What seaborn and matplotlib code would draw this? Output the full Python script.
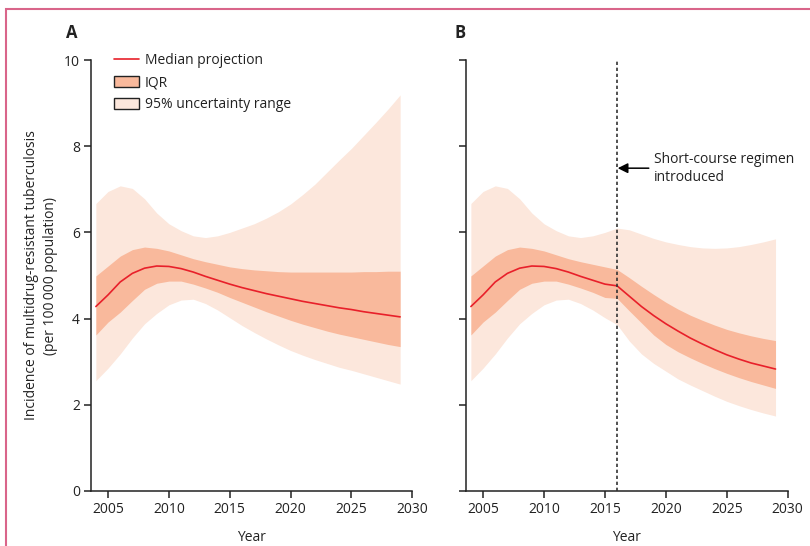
import numpy as np
import pandas as pd
import matplotlib
matplotlib.use("Agg")
import matplotlib.pyplot as plt
from matplotlib.patches import Rectangle, Patch
from matplotlib.lines import Line2D
import seaborn as sns

# ---- data: incidence of MDR-TB per 100 000 population ----
years = list(range(2004, 2030))

# Panel A: current standard regimen
median_a = [4.28, 4.55, 4.85, 5.05, 5.17, 5.22, 5.21, 5.16, 5.08, 4.98, 4.89, 4.80, 4.72,
            4.65, 4.58, 4.52, 4.46, 4.40, 4.35, 4.30, 4.25, 4.21, 4.16, 4.12, 4.08, 4.04]
iqr_hi_a = [4.99, 5.22, 5.45, 5.60, 5.66, 5.63, 5.57, 5.48, 5.39, 5.32, 5.26, 5.20, 5.16,
            5.13, 5.11, 5.09, 5.08, 5.08, 5.08, 5.08, 5.08, 5.08, 5.09, 5.09, 5.10, 5.10]
iqr_lo_a = [3.62, 3.92, 4.15, 4.42, 4.68, 4.82, 4.87, 4.87, 4.80, 4.71, 4.61, 4.49, 4.38,
            4.27, 4.16, 4.06, 3.96, 3.87, 3.79, 3.71, 3.64, 3.58, 3.52, 3.46, 3.40, 3.35]
ui_hi_a = [6.67, 6.95, 7.08, 7.02, 6.78, 6.45, 6.20, 6.04, 5.92, 5.88, 5.92, 6.00, 6.10,
           6.20, 6.33, 6.48, 6.66, 6.88, 7.12, 7.40, 7.68, 7.95, 8.25, 8.55, 8.86, 9.19]
ui_lo_a = [2.56, 2.85, 3.18, 3.55, 3.88, 4.12, 4.32, 4.43, 4.45, 4.35, 4.20, 4.02, 3.84,
           3.68, 3.53, 3.39, 3.26, 3.15, 3.05, 2.96, 2.87, 2.80, 2.72, 2.64, 2.56, 2.48]

# Panel B: short-course regimen introduced in 2016 (values from 2016 onward)
intro_year = 2016
median_b_post = [4.76, 4.52, 4.28, 4.07, 3.88, 3.71, 3.55, 3.41, 3.28, 3.16, 3.06, 2.97, 2.90, 2.83]
iqr_hi_b_post = [5.14, 4.95, 4.75, 4.56, 4.38, 4.22, 4.08, 3.96, 3.85, 3.75, 3.67, 3.60, 3.54, 3.49]
iqr_lo_b_post = [4.47, 4.18, 3.90, 3.62, 3.40, 3.23, 3.09, 2.96, 2.84, 2.73, 2.63, 2.54, 2.46, 2.38]
ui_hi_b_post = [6.10, 6.06, 5.96, 5.86, 5.78, 5.72, 5.67, 5.64, 5.63, 5.64, 5.67, 5.72, 5.78, 5.85]
ui_lo_b_post = [3.86, 3.48, 3.18, 2.96, 2.78, 2.60, 2.46, 2.33, 2.20, 2.08, 1.98, 1.89, 1.81, 1.74]

x_ticks = [2005, 2010, 2015, 2020, 2025, 2030]
y_ticks = [0, 2, 4, 6, 8, 10]

# ---- assemble tables ----
k = years.index(intro_year)
df_a = pd.DataFrame({"year": years, "median": median_a, "iqr_lo": iqr_lo_a,
                     "iqr_hi": iqr_hi_a, "ui_lo": ui_lo_a, "ui_hi": ui_hi_a})
df_b = pd.DataFrame({"year": years,
                     "median": median_a[:k] + median_b_post,
                     "iqr_lo": iqr_lo_a[:k] + iqr_lo_b_post,
                     "iqr_hi": iqr_hi_a[:k] + iqr_hi_b_post,
                     "ui_lo": ui_lo_a[:k] + ui_lo_b_post,
                     "ui_hi": ui_hi_a[:k] + ui_hi_b_post})

# ---- style ----
sns.set_theme(style="ticks")
plt.rcParams["font.family"] = ["Open Sans", "DejaVu Sans"]
plt.rcParams["font.size"] = 10

C_MED = "#E8202A"
C_IQR = "#F9B99C"
C_UI = "#FCE7DC"
C_AX = "#222222"

fig = plt.figure(figsize=(8.1, 5.46), dpi=100)
W, H = 810, 546
ax_a = fig.add_axes([91 / W, 1 - 491 / H, 321.3 / W, 431 / H])
ax_b = fig.add_axes([466 / W, 1 - 491 / H, 321.7 / W, 431 / H])

for ax, df in ((ax_a, df_a), (ax_b, df_b)):
    ax.fill_between(df["year"], df["ui_lo"], df["ui_hi"], color=C_UI, lw=0, zorder=1)
    ax.fill_between(df["year"], df["iqr_lo"], df["iqr_hi"], color=C_IQR, lw=0, zorder=2)
    sns.lineplot(data=df, x="year", y="median", ax=ax, color=C_MED, lw=1.2, zorder=3)
    ax.set_xlim(2003.6, 2030)
    ax.set_ylim(0, 10)
    ax.set_xticks(x_ticks)
    ax.set_yticks(y_ticks)
    ax.set_xlabel("Year", fontsize=10, labelpad=9, color=C_AX)
    sns.despine(ax=ax)
    for s in ("left", "bottom"):
        ax.spines[s].set_linewidth(1.1)
        ax.spines[s].set_color(C_AX)
    ax.tick_params(direction="out", length=5, width=1.1, color=C_AX,
                   labelsize=10, labelcolor=C_AX, pad=3)

ax_a.set_ylabel("Incidence of multidrug-resistant tuberculosis\n(per 100\u2009000 population)",
                fontsize=10, color=C_AX, labelpad=4, linespacing=1.4)
ax_b.set_ylabel("")
ax_b.set_yticklabels([])

# short-course regimen marker
ax_b.axvline(intro_year, color="#333333", lw=1.2, ls=(0, (2.0, 1.6)), zorder=4)
ax_b.annotate("", xy=(intro_year + 0.05, 7.49), xytext=(2018.6, 7.49),
              arrowprops=dict(arrowstyle="-|>", color="black", lw=1.1,
                              mutation_scale=15, shrinkA=0, shrinkB=0))
ax_b.text(2019.0, 7.49, "Short-course regimen\nintroduced", ha="left", va="center",
          fontsize=10, color=C_AX, linespacing=1.3)

# panel letters
fig.text(72 / W, 1 - 33 / H, "A", ha="center", va="center", fontsize=12, fontweight="bold", color=C_AX)
fig.text(460 / W, 1 - 33 / H, "B", ha="center", va="center", fontsize=12, fontweight="bold", color=C_AX)

# legend
handles = [Line2D([], [], color=C_MED, lw=1.2),
           Patch(facecolor=C_IQR, edgecolor=C_AX, lw=1.0),
           Patch(facecolor=C_UI, edgecolor=C_AX, lw=1.0)]
labels = ["Median projection", "IQR", "95% uncertainty range"]
ax_a.legend(handles, labels, loc="upper left", bbox_to_anchor=(0.055, 1.028),
            frameon=False, fontsize=10, handlelength=1.8, handleheight=0.8,
            handletextpad=0.4, labelspacing=0.5, borderaxespad=0, labelcolor=C_AX)

# page frame
fig.patches.append(Rectangle((6 / W, -0.2), 1.5, 1.2 - 8.5 / H, transform=fig.transFigure,
                             fill=False, edgecolor="#D9658A", lw=1.5, clip_on=False))

fig.savefig("out.png", dpi=100)
